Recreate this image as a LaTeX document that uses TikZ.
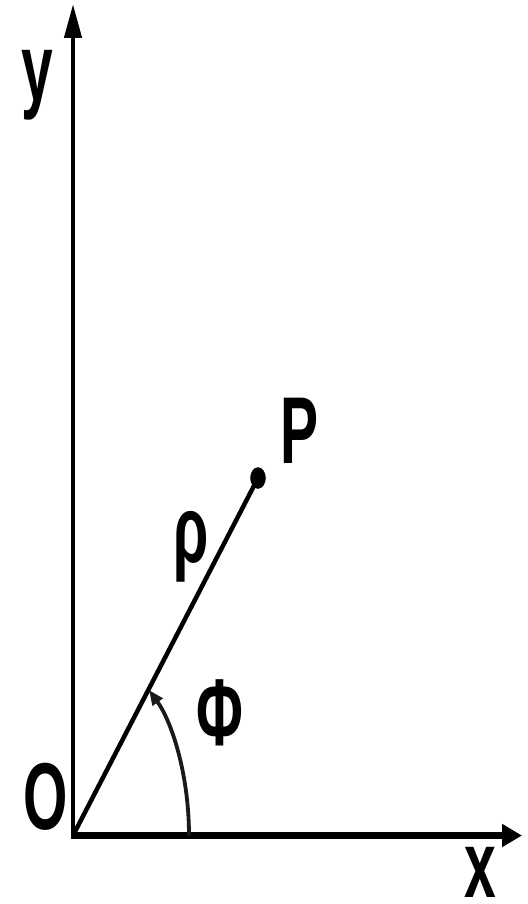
\documentclass[tikz,border=0pt]{standalone}
\usepackage{fontspec}
\usetikzlibrary{arrows.meta,shapes.geometric}
\newfontfamily\lblfont[FakeStretch=0.6]{Liberation Sans}
\tikzset{
  lbl/.style={anchor=base, inner sep=0pt, font=\lblfont\bfseries\fontsize{95}{95}\selectfont},
  axis/.style={line width=4.5pt, black},
  ray/.style={line width=4.5pt, black},
  arcline/.style={line width=3.8pt, black!90},
  dot/.style={draw=black, fill=black, ellipse, minimum width=15pt, minimum height=21pt, inner sep=0pt},
}
\begin{document}
\begin{tikzpicture}[x=1pt, y=-1pt]
\useasboundingbox (0,0) rectangle (527,904);
\coordinate (O) at (73,835.5);
\coordinate (Ybase) at (73,839);
\coordinate (Xbase) at (71,835.5);
\coordinate (Ytip) at (73,4);
\coordinate (Xtip) at (522,835.5);
\coordinate (A) at (189,835.5);
\coordinate (B) at (149,690);
\node[dot] (P) at (258,478) {};
% axes
\draw[axis, line width=4.5pt, -{Triangle[length=34pt,width=17pt]}] (Ybase) -- (Ytip);
\draw[axis, line width=7pt, -{Triangle[length=20pt,width=22pt]}] (Xbase) -- (Xtip);
% ray
\draw[ray] (O) -- (P.center);
% angle arc
\draw[arcline, -{Triangle[length=15pt,width=12pt]}] (A) .. controls (189,775) and (172,722) .. (B);
% labels
\node[lbl] (ylab) at (37.5,101) {y};
\node[lbl] (xlab) at (480,897) {x};
\node[lbl] (olab) at (46,829) {O};
\node[lbl] (plab) at (300,463) {P};
\node[lbl] (rholab) at (191.5,562) {ρ};
\node[lbl] (philab) at (220,745) {Φ};
\end{tikzpicture}
\end{document}
